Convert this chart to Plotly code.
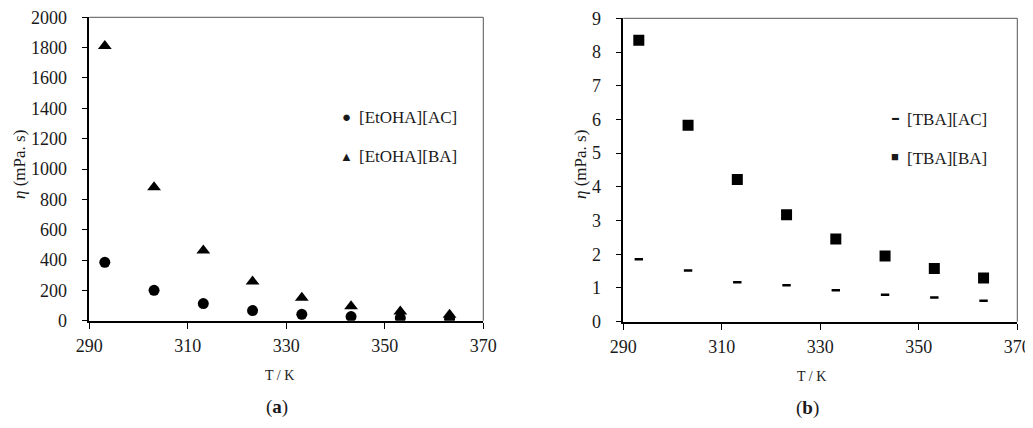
import plotly.graph_objects as go

T = [293.15, 303.15, 313.15, 323.15, 333.15, 343.15, 353.15, 363.15]
etoha_ac = [385, 200, 113, 67, 42, 27, 18, 12]
etoha_ba = [1810, 880, 463, 258, 152, 95, 60, 40]
tba_ac = [1.85, 1.52, 1.17, 1.08, 0.93, 0.80, 0.72, 0.62]
tba_ba = [8.35, 5.83, 4.22, 3.17, 2.45, 1.95, 1.58, 1.30]

names = ["[EtOHA][AC]", "[EtOHA][BA]", "[TBA][AC]", "[TBA][BA]"]

FONT = "Liberation Serif"
TXT = "#1a1a1a"
OFF = 8  # page body margin offset
W, H = 1033 - OFF, 428 - 2 * OFF

fig = go.Figure()

fig.add_trace(go.Scatter(x=T, y=etoha_ac, mode="markers", name=names[0],
                         marker=dict(symbol="circle", size=11, color="black"),
                         xaxis="x", yaxis="y"))
fig.add_trace(go.Scatter(x=T, y=etoha_ba, mode="markers", name=names[1],
                         marker=dict(symbol="triangle-up", size=12, color="black"),
                         xaxis="x", yaxis="y"))
fig.add_trace(go.Scatter(x=T, y=tba_ac, mode="markers", name=names[2],
                         marker=dict(symbol="line-ew", size=6, color="black",
                                     line=dict(width=2.5, color="black")),
                         xaxis="x2", yaxis="y2"))
fig.add_trace(go.Scatter(x=T, y=tba_ba, mode="markers", name=names[3],
                         marker=dict(symbol="square", size=11, color="black"),
                         xaxis="x2", yaxis="y2"))

tickfont = dict(family=FONT, size=18, color=TXT)
common_x = dict(range=[290, 370], tick0=290, dtick=20, ticks="outside", ticklen=6,
                tickcolor="black", showline=True, linecolor="black", linewidth=2,
                showgrid=False, zeroline=False, tickfont=tickfont, ticklabelstandoff=2,
                automargin=False, ticklabeloverflow="allow")
common_y = dict(ticks="outside", ticklen=6, tickcolor="black", showline=True,
                linecolor="black", linewidth=1.5, showgrid=False, zeroline=False,
                tickfont=tickfont, ticklabelstandoff=11, automargin=False,
                ticklabeloverflow="allow")


def dx(a, b):
    return [(a - OFF) / W, (b - OFF) / W]


def dy(bottom, top):
    return [1 - (bottom - OFF) / H, 1 - (top - OFF) / H]


fig.update_layout(
    template="none",
    width=W, height=H,
    margin=dict(l=0, r=0, t=0, b=0, pad=0),
    paper_bgcolor="white", plot_bgcolor="white",
    font=dict(family=FONT, color=TXT),
    xaxis=dict(domain=dx(89.3, 483.3), anchor="y", **common_x),
    yaxis=dict(domain=dy(320.7, 17.3), anchor="x", range=[0, 2000], dtick=200, **common_y),
    xaxis2=dict(domain=dx(623.3, 1017.3), anchor="y2", **common_x),
    yaxis2=dict(domain=dy(321.7, 18.3), anchor="x2", range=[0, 9], dtick=1, **common_y),
    showlegend=False,
)

# top/right frame lines (light)
for xr, yr in [("x domain", "y domain"), ("x2 domain", "y2 domain")]:
    fig.add_shape(type="line", xref=xr, yref=yr, x0=0, x1=1, y0=1, y1=1,
                  line=dict(color="#555", width=1))
    fig.add_shape(type="line", xref=xr, yref=yr, x0=1, x1=1, y0=0, y1=1,
                  line=dict(color="#555", width=1))


def pa(x, y, text, size, xanchor="center", **kw):
    fig.add_annotation(x=(x - OFF) / W, y=1 - (y - OFF) / H, xref="paper", yref="paper",
                       text=text, showarrow=False, xanchor=xanchor, yanchor="middle",
                       font=dict(family=FONT, size=size, color=TXT), **kw)


# legend entries (symbol + label)
pa(346, 117, "●", 15)
pa(357, 117, names[0], 17, xanchor="left")
pa(346, 156, "▲", 13)
pa(357, 157, names[1], 17, xanchor="left")
pa(895, 118, "▬", 7)
pa(905, 119, names[2], 17, xanchor="left")
pa(895, 157, "■", 13)
pa(905, 158, names[3], 17, xanchor="left")

pa(279, 375, "T / K", 14)
pa(811, 376, "T / K", 14)
pa(277, 407, "(<b>a</b>)", 19)
pa(807, 408, "(<b>b</b>)", 19)
pa(20, 165, "<i>η</i> (mPa. s)", 17, textangle=-90)
pa(581, 165, "<i>η</i> (mPa. s)", 17, textangle=-90)

fig.write_html("out.html")
